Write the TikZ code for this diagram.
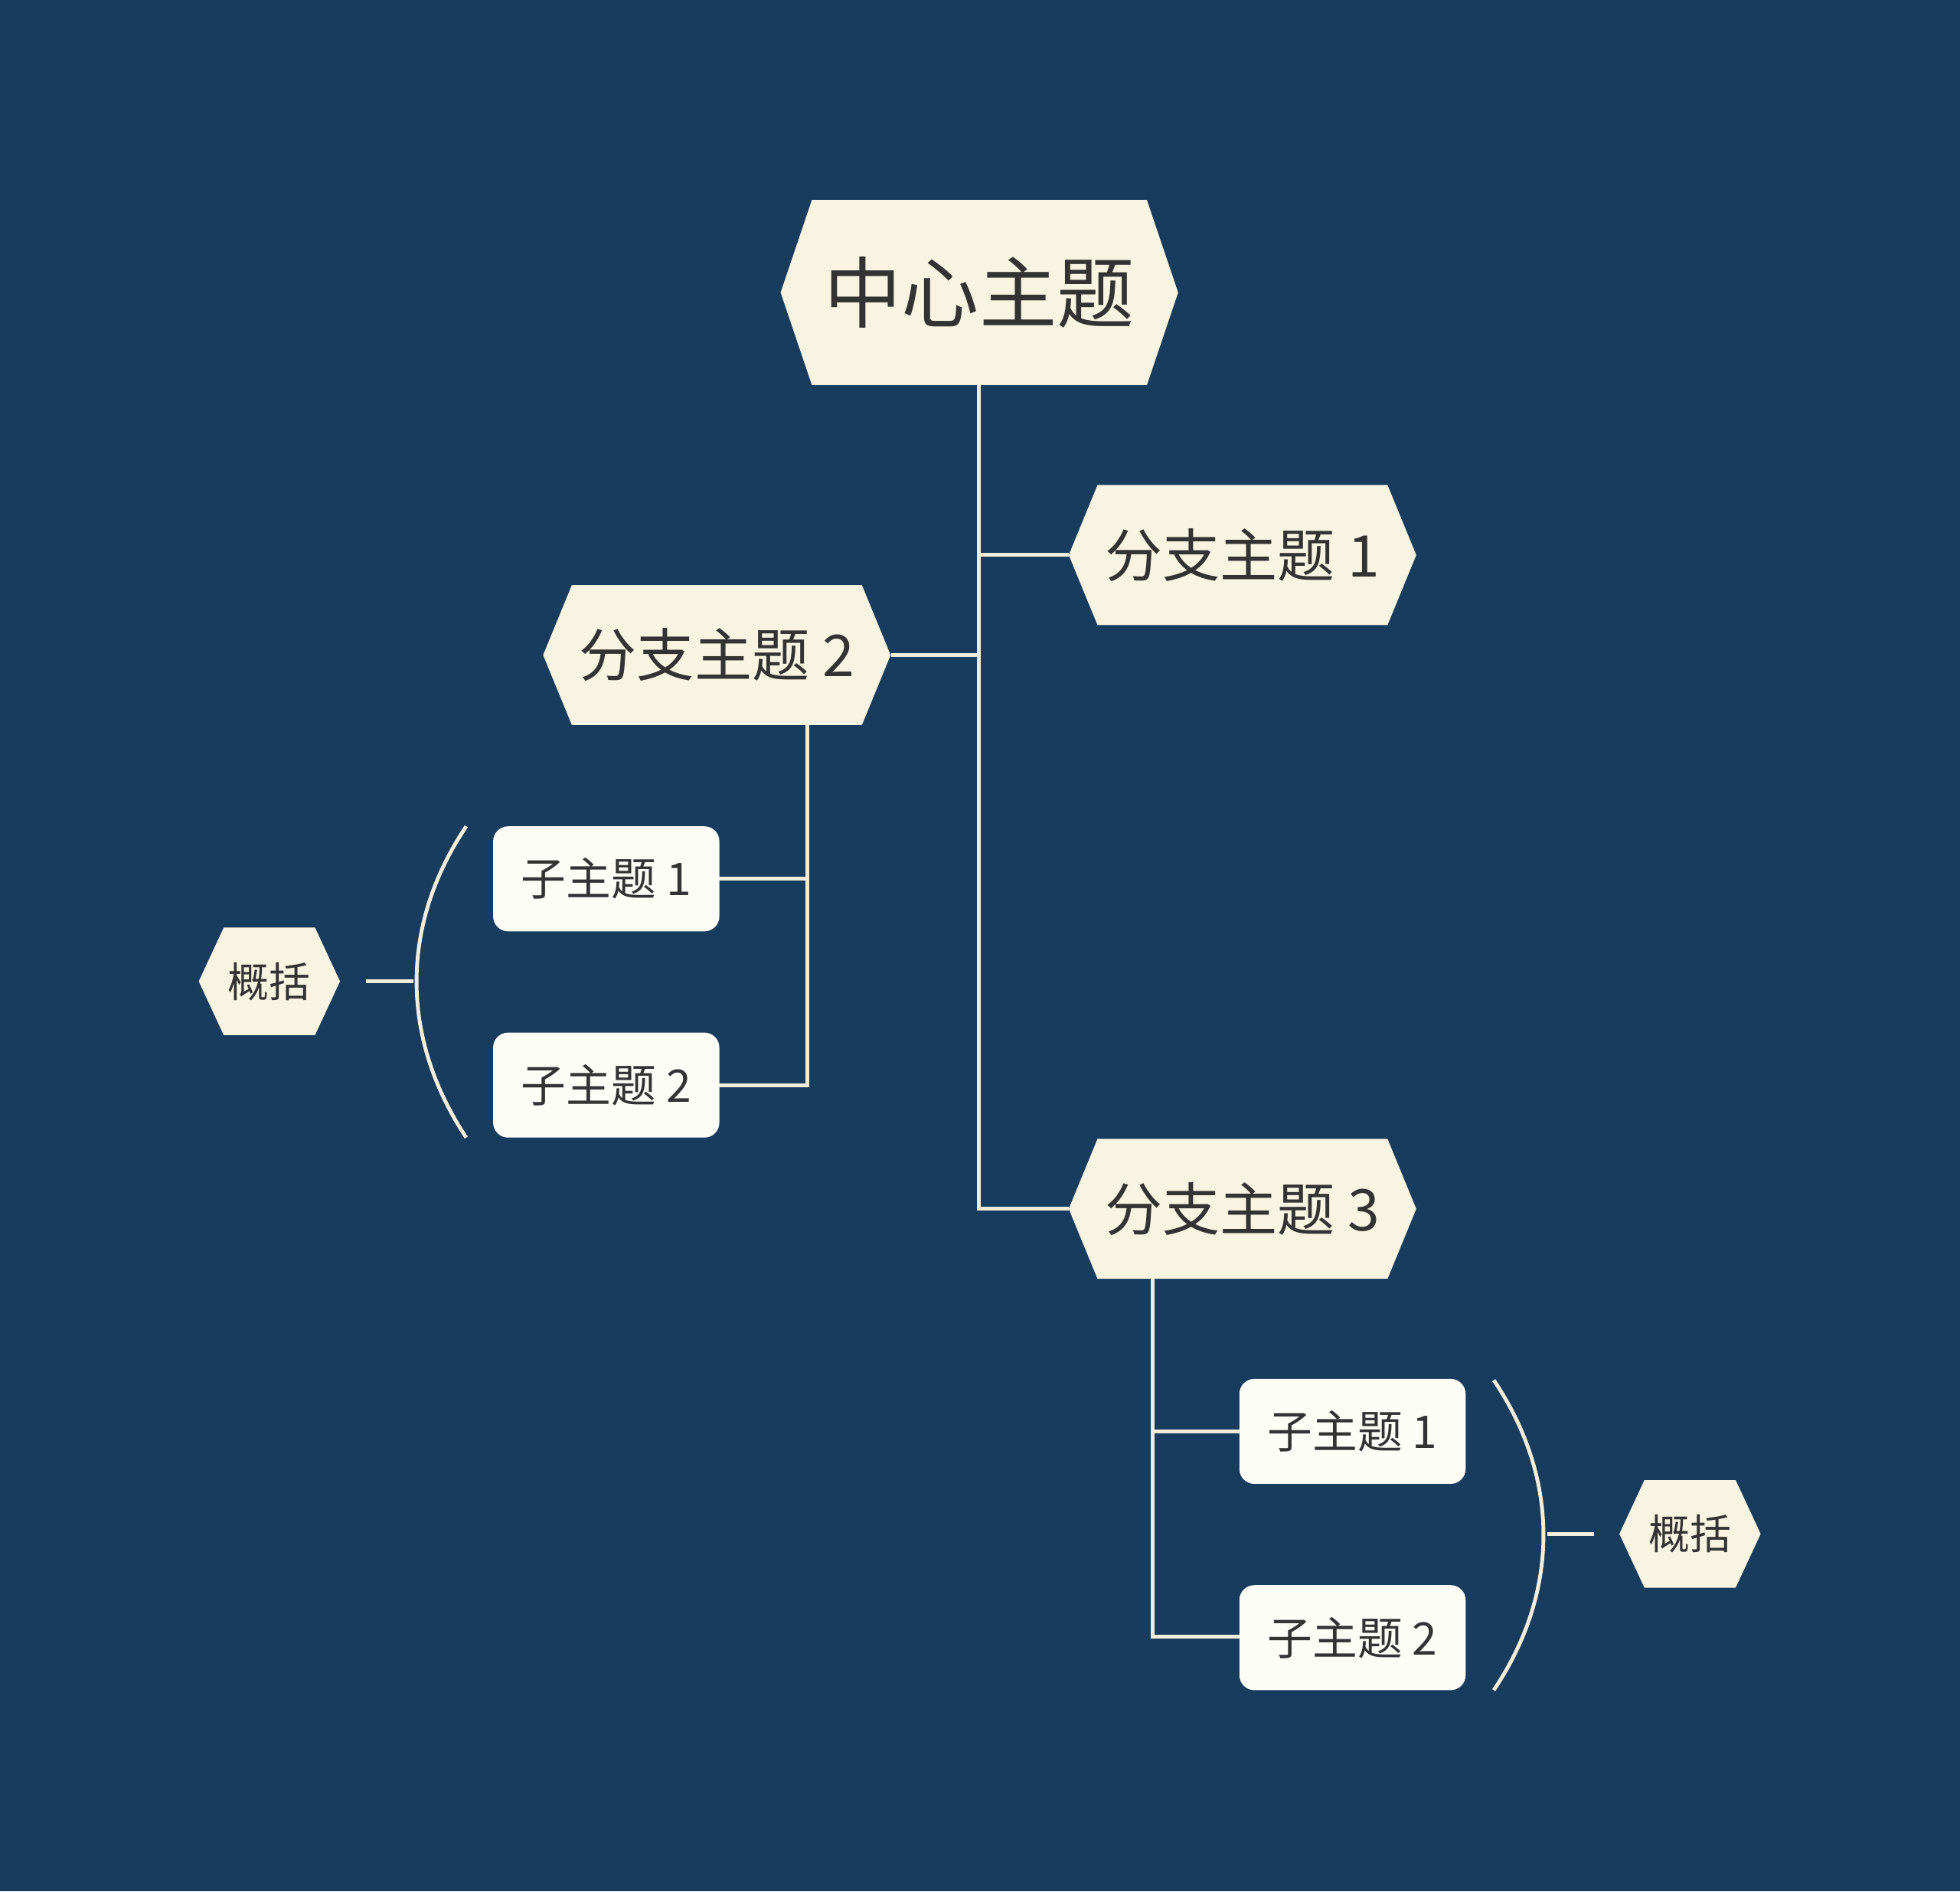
\documentclass[tikz,border=0pt]{standalone}
\usepackage{fontspec}
\newfontfamily\cjk{Noto Sans CJK SC}
\definecolor{bg}{HTML}{173C5D}
\definecolor{hexfill}{HTML}{F8F4E2}
\definecolor{boxfill}{HTML}{FDFDF8}
\definecolor{ln}{HTML}{F3EEDC}
\definecolor{txt}{HTML}{333333}
\newcommand{\hexnode}[8]{%
  \fill[hexfill] (#2-#4,#3) -- (#2-#4+#6,#3-#5) -- (#2+#4-#6,#3-#5) -- (#2+#4,#3) -- (#2+#4-#6,#3+#5) -- (#2-#4+#6,#3+#5) -- cycle;
  \node[textnode,font=\cjk\fontsize{#8}{#8}\selectfont] (#1) at (#2,#3) {#7};
  \coordinate (#1-w) at (#2-#4,#3);
  \coordinate (#1-e) at (#2+#4,#3);
  \coordinate (#1-s) at (#2,#3+#5);
}
\tikzset{textnode/.style={text=txt,inner sep=0pt},
  conn/.style={draw=ln,line width=3pt},
  subbox/.style={fill=boxfill,rounded corners=12pt,minimum width=181pt,minimum height=84pt,text=txt,inner sep=0pt,font=\cjk\fontsize{36}{36}\selectfont}}
\begin{document}
\begin{tikzpicture}[x=1pt,y=-1pt]
\fill[bg] (0,0) rectangle (1568,1513);
\useasboundingbox (0,0) rectangle (1568,1513);
% connectors
\coordinate (trunkT) at (783,308);
\coordinate (j1) at (783,444);
\coordinate (j2) at (783,524);
\coordinate (j3) at (783,967);
\draw[conn] (trunkT) -- (j3) -- (855,967);
\draw[conn] (j1) -- (855,444);
\draw[conn] (j2) -- (713,524);
\draw[conn] (646,580) -- (646,868) -- (575,868);
\draw[conn] (646,703) -- (575,703);
\draw[conn] (922,1022) -- (922,1309) -- (992,1309);
\draw[conn] (922,1145) -- (992,1145);
% brackets
\coordinate (bl1) at (373,661); \coordinate (bl2) at (373,910);
\draw[conn] (bl1) .. controls (320,740) and (320,830) .. (bl2);
\draw[conn] (293,785) -- (331,785);
\coordinate (br1) at (1195,1104); \coordinate (br2) at (1195,1352);
\draw[conn] (br1) .. controls (1248,1183) and (1248,1273) .. (br2);
\draw[conn] (1238,1227) -- (1275,1227);
% nodes
\hexnode{c}{783.5}{234}{159}{74}{25}{中心主题}{62}
\hexnode{b1}{994}{444}{139}{56}{23}{分支主题 1}{46}
\hexnode{b2}{573.5}{524}{139}{56}{23}{分支主题 2}{46}
\hexnode{b3}{994}{967}{139}{56}{23}{分支主题 3}{46}
\hexnode{s1}{215.5}{785}{56.5}{43}{20}{概括}{33}
\hexnode{s2}{1352}{1227}{56.5}{43}{20}{概括}{33}
\node[subbox] (l1) at (485,703) {子主题 1};
\node[subbox] (l2) at (485,868) {子主题 2};
\node[subbox] (r1) at (1082,1145) {子主题 1};
\node[subbox] (r2) at (1082,1310) {子主题 2};
\end{tikzpicture}
\end{document}
